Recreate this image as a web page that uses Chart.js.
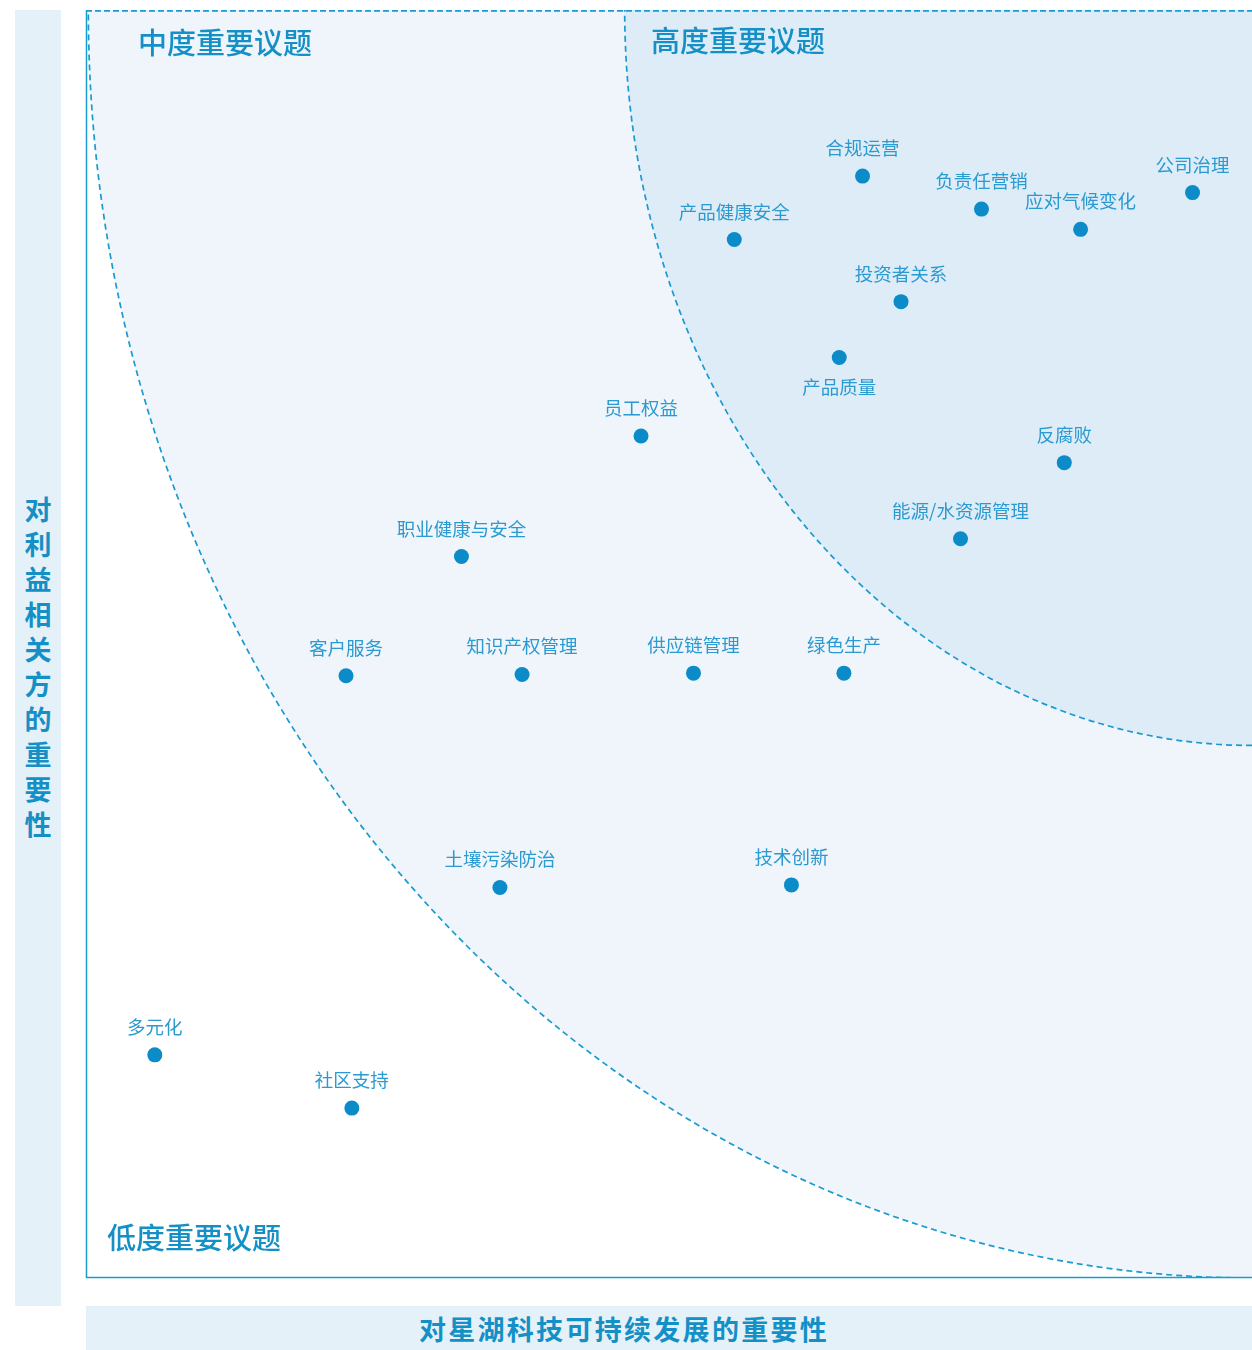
<!DOCTYPE html>
<html>
<head>
<meta charset="utf-8">
<script src="https://cdn.jsdelivr.net/npm/chart.js@4/dist/chart.umd.min.js"></script>
<style>
  html, body { margin: 0; padding: 0; background: #ffffff; overflow: hidden; }
  #wrap { position: relative; width: 1252px; height: 1350px; }
  canvas { position: absolute; left: 0; top: 0; }
  .ybox { position: absolute; left: 15px; top: 10px; width: 46px; height: 1296px; background: #e5f1f8;
          display: flex; align-items: center; justify-content: center; }
  .ybox span { writing-mode: vertical-rl; text-orientation: upright; font-family: "Noto Sans CJK SC", sans-serif;
          font-weight: 700; font-size: 27px; letter-spacing: 8px; color: #1590c6; line-height: 1; margin-top: 26px; }
  .xbox { position: absolute; left: 86px; top: 1306px; width: 1166px; height: 44px; background: #e5f1f8;
          display: flex; align-items: center; justify-content: center; }
  .xbox span { font-family: "Noto Sans CJK SC", sans-serif; font-weight: 700; font-size: 27px; letter-spacing: 2.3px;
          color: #1590c6; line-height: 1; margin-left: -90px; }
</style>
</head>
<body>
<div id="wrap">
  <div class="ybox"><span>对利益相关方的重要性</span></div>
  <div class="xbox"><span>对星湖科技可持续发展的重要性</span></div>
  <canvas id="c" width="1252" height="1350"></canvas>
</div>
<script>
// ---- data ----
const topics = ['合规运营','负责任营销','公司治理','应对气候变化','产品健康安全','投资者关系','产品质量','员工权益','反腐败','能源/水资源管理','职业健康与安全','客户服务','知识产权管理','供应链管理','绿色生产','土壤污染防治','技术创新','多元化','社区支持'];
const devImportance = [66.6, 76.8, 94.9, 85.3, 55.6, 69.9, 64.6, 47.6, 83.9, 75.0, 32.2, 22.3, 37.4, 52.1, 65.0, 35.5, 60.5, 5.9, 22.8];
const stakeholderImportance = [86.9, 84.3, 85.6, 82.7, 81.9, 77.0, 72.6, 66.4, 64.3, 58.3, 56.9, 47.5, 47.6, 47.7, 47.7, 30.8, 31.0, 17.6, 13.4];
const labelsBelow = ['产品质量'];
const zoneNames = ['高度重要议题', '中度重要议题', '低度重要议题'];
// zone boundaries (quarter ellipses centred at the top-right corner), radii in axis units [x, y]
const highZoneRadius = [53.8, 58.0];
const midZoneRadius = [99.8, 100];
const axisMin = 0, axisMax = 100;

const points = topics.map((t, i) => ({ x: devImportance[i], y: stakeholderImportance[i], name: t }));

const BLUE = '#1a9bd0';
const bgPlugin = {
  id: 'zones',
  beforeDatasetsDraw(chart) {
    const { ctx, chartArea: a, scales: { x, y } } = chart;
    const cx = x.getPixelForValue(axisMax), cy = y.getPixelForValue(axisMax);
    ctx.save();
    ctx.beginPath();
    ctx.rect(a.left, a.top, a.right - a.left, a.bottom - a.top);
    ctx.clip();
    ctx.fillStyle = '#ffffff';
    ctx.fillRect(a.left, a.top, a.right - a.left, a.bottom - a.top);
    const drawZone = (r, fill) => {
      const rx = x.getPixelForValue(axisMax) - x.getPixelForValue(axisMax - r[0]);
      const ry = y.getPixelForValue(axisMax - r[1]) - y.getPixelForValue(axisMax);
      ctx.beginPath();
      ctx.moveTo(cx, cy);
      ctx.ellipse(cx, cy, rx, ry, 0, Math.PI / 2, Math.PI, false);
      ctx.closePath();
      ctx.fillStyle = fill;
      ctx.fill();
      ctx.beginPath();
      ctx.ellipse(cx, cy, rx, ry, 0, Math.PI / 2, Math.PI, false);
      ctx.setLineDash([6, 4]);
      ctx.lineWidth = 1.7;
      ctx.strokeStyle = BLUE;
      ctx.stroke();
      ctx.setLineDash([]);
    };
    drawZone(midZoneRadius, '#eff5fb');
    drawZone(highZoneRadius, '#deecf8');
    ctx.restore();
    // borders
    ctx.save();
    ctx.strokeStyle = BLUE;
    ctx.lineWidth = 1.8;
    ctx.setLineDash([6, 3]);
    ctx.beginPath(); ctx.moveTo(a.left, a.top + 0.9); ctx.lineTo(a.right, a.top + 0.9); ctx.stroke();
    ctx.setLineDash([]);
    ctx.lineWidth = 1.5;
    ctx.beginPath(); ctx.moveTo(a.left + 0.5, a.top); ctx.lineTo(a.left + 0.5, a.bottom); ctx.stroke();
    ctx.beginPath(); ctx.moveTo(a.left, a.bottom - 0.5); ctx.lineTo(a.right, a.bottom - 0.5); ctx.stroke();
    // zone names
    ctx.fillStyle = '#1590c6';
    ctx.font = '500 29px "Noto Sans CJK SC", sans-serif';
    ctx.textBaseline = 'middle';
    ctx.textAlign = 'left';
    ctx.fillText(zoneNames[0], a.left + 565, a.top + 31);
    ctx.fillText(zoneNames[1], a.left + 52, a.top + 33);
    ctx.fillText(zoneNames[2], a.left + 21, a.bottom - 40);
    ctx.restore();
  },
  afterDatasetsDraw(chart) {
    const { ctx } = chart;
    const meta = chart.getDatasetMeta(0);
    ctx.save();
    ctx.fillStyle = '#2a9ad0';
    ctx.font = '18.5px "Noto Sans CJK SC", sans-serif';
    ctx.textAlign = 'center';
    ctx.textBaseline = 'middle';
    meta.data.forEach((el, i) => {
      const name = topics[i];
      const dy = labelsBelow.includes(name) ? 30 : -28;
      ctx.fillText(name, el.x, el.y + dy);
    });
    ctx.restore();
  }
};

new Chart(document.getElementById('c'), {
  type: 'scatter',
  data: {
    datasets: [{
      data: points,
      backgroundColor: '#0b8bc7',
      borderColor: '#0b8bc7',
      pointRadius: 7.5,
      pointHoverRadius: 7.5,
      borderWidth: 0
    }]
  },
  options: {
    responsive: false,
    animation: false,
    layout: { autoPadding: false, padding: { left: 86, top: 10, right: 0, bottom: 72 } },
    plugins: { legend: { display: false }, tooltip: { enabled: false } },
    scales: {
      x: { type: 'linear', min: axisMin, max: axisMax, display: false },
      y: { type: 'linear', min: axisMin, max: axisMax, display: false }
    }
  },
  plugins: [bgPlugin]
});
</script>
</body>
</html>
